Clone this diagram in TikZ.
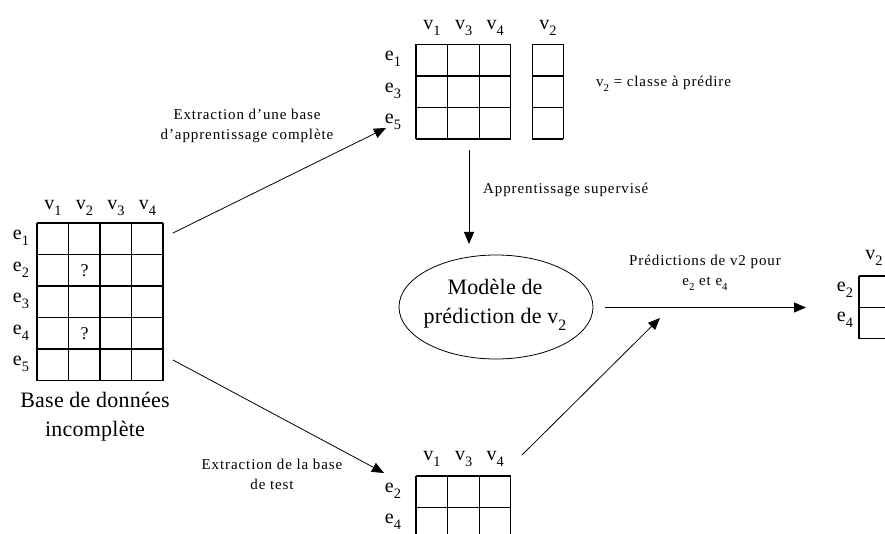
\documentclass[tikz,border=0pt]{standalone}
\usepackage{fontspec}
\setmainfont{Liberation Serif}
\usetikzlibrary{arrows.meta,shapes.geometric}

% lowered, smaller index (v1, e2, ...)
\newcommand\dn[1]{\raisebox{-0.32em}{\scalebox{0.72}{#1}}}

\begin{document}
\begin{tikzpicture}[x=1pt,y=-1pt,
  cellline/.style={line width=1.3pt, black},
  flow/.style={line width=0.8pt, black, -{Triangle[length=12pt,width=10pt]}},
  idx/.style={font=\fontsize{20}{20}\selectfont, inner sep=0pt},
  note/.style={font=\fontsize{15}{20}\selectfont\addfontfeature{LetterSpace=6}, align=center, inner sep=0pt},
  big/.style={font=\fontsize{22}{29}\selectfont\addfontfeature{LetterSpace=1}, align=center, inner sep=0pt},
  qmark/.style={font=\fontsize{18}{18}\selectfont, inner sep=0pt}]

\useasboundingbox (0,0) rectangle (885,534);
\fill[white] (0,0) rectangle (885,534);

% ---------- incomplete database (4 x 5) ----------
\foreach \i in {0,...,4} \draw[cellline] ({37+31.5*\i},223) -- ({37+31.5*\i},380.5);
\foreach \j in {0,...,5} \draw[cellline] (37,{223+31.5*\j}) -- (163,{223+31.5*\j});
\foreach \n [count=\k from 0] in {1,...,4}
  \node[idx] (lh\n) at ({53+31.5*\k},208) {v\dn{\n}};
\foreach \n [count=\k from 0] in {1,...,5}
  \node[idx] (lr\n) at (21,{238+31.5*\k}) {e\dn{\n}};
\node[qmark] (q2) at (84.5,270.5) {?};
\node[qmark] (q4) at (84.5,333.5) {?};
\node[big] (base) at (95,417) {Base de données\\incomplète};
\coordinate (lsrcA) at (173,233);
\coordinate (lsrcB) at (173,360);

% ---------- training set (3 x 3) + class column ----------
\foreach \i in {0,...,3} \draw[cellline] ({416+31.6*\i},44.3) -- ({416+31.6*\i},139);
\foreach \j in {0,...,3} \draw[cellline] (416,{44.3+31.57*\j}) -- (510.8,{44.3+31.57*\j});
\foreach \x in {532.3,563.3} \draw[cellline] (\x,44.3) -- (\x,139);
\foreach \j in {0,...,3} \draw[cellline] (532.3,{44.3+31.57*\j}) -- (563.3,{44.3+31.57*\j});
\foreach \n [count=\k from 0] in {1,3,4}
  \node[idx] (th\n) at ({432+31.6*\k},28) {v\dn{\n}};
\node[idx] (th2) at (548,28) {v\dn{2}};
\foreach \n [count=\k from 0] in {1,3,5}
  \node[idx] (tr\n) at (393,{59+31.57*\k}) {e\dn{\n}};
\node[note, anchor=west] (cls) at (596,84) {v\dn{2} = classe à prédire};
\coordinate (tin) at (386,128);
\coordinate (tout) at (469,150);

% ---------- test set (3 x 2, cut at the bottom) ----------
\foreach \i in {0,...,3} \draw[cellline] ({416+31.6*\i},476) -- ({416+31.6*\i},540);
\foreach \j in {0,...,2} \draw[cellline] (416,{476+31.5*\j}) -- (510.8,{476+31.5*\j});
\foreach \n [count=\k from 0] in {1,3,4}
  \node[idx] (bh\n) at ({432+31.6*\k},459) {v\dn{\n}};
\node[idx] (br2) at (393,491) {e\dn{2}};
\node[idx] (br4) at (393,522) {e\dn{4}};
\coordinate (bin) at (384,473);
\coordinate (bout) at (522,455);

% ---------- predicted column ----------
\draw[cellline] (859,276) -- (859,338.5);
\foreach \y in {276,307.3,338.5} \draw[cellline] (859,\y) -- (890,\y);
\node[idx] (rh2) at (874,258) {v\dn{2}};
\node[idx] (rr2) at (845,290) {e\dn{2}};
\node[idx] (rr4) at (845,320) {e\dn{4}};
\coordinate (rin) at (806,307.5);

% ---------- model ----------
\node[draw, ellipse, line width=0.8pt, minimum width=194pt, minimum height=104pt, inner sep=0pt]
  (model) at (496,307) {};
\node[big] (mtext) at (495,305) {Modèle de\\prédiction de v\dn{2}};
\coordinate (min) at (469,244);
\coordinate (mout) at (605,307.5);
\coordinate (mid) at (660,318);

% ---------- connectors ----------
\draw[flow] (lsrcA) -- (tin);
\draw[flow] (lsrcB) -- (bin);
\draw[flow] (tout) -- (min);
\draw[flow] (mout) -- (rin);
\draw[flow] (bout) -- (mid);

% ---------- connector labels ----------
\node[note] (l1) at (247,126) {Extraction d’une base\\d’apprentissage complète};
\node[note, anchor=west] (l2) at (483,190) {Apprentissage supervisé};
\node[note] (l3) at (705,273) {Prédictions de v2 pour\\e\dn{2} et e\dn{4}};
\node[note] (l4) at (272,474) {Extraction de la base\\de test};

\end{tikzpicture}
\end{document}
